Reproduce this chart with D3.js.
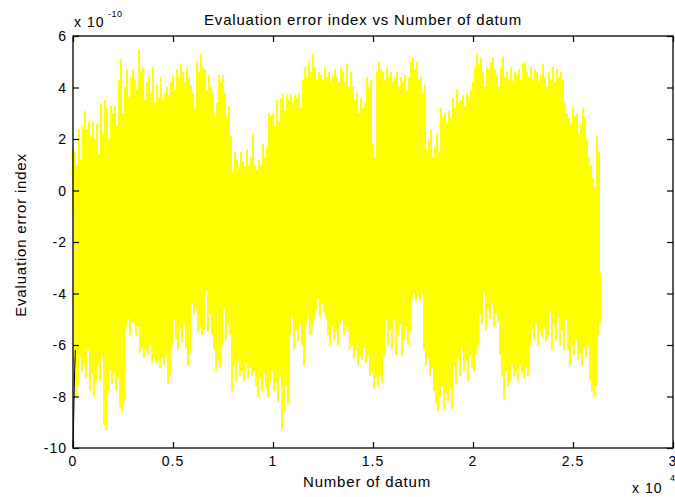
<!DOCTYPE html>
<html>
<head>
<meta charset="utf-8">
<script src="https://cdn.jsdelivr.net/npm/d3@7"></script>
<style>
  body { margin: 0; background: #fff; }
  text { font-family: "Liberation Sans", Arial, Helvetica, sans-serif; fill: #000; }
</style>
</head>
<body>
<div id="chart"></div>
<script>
var svgWidth = 675;
var svgHeight = 497;

var margin = { top: 36, right: 2, left: 73, bottom: 49 };
var width = svgWidth - margin.left - margin.right;
var height = svgHeight - margin.top - margin.bottom;

// one column every 100 datum: highest and lowest value (x 1e-10) in it
var datumStep = 100;
var colHigh = [
  1.7, 1.5, 1.0, 2.4, 1.2, 2.5, 3.1, 2.4, 2.7, 2.1,
  2.7, 2.0, 2.6, 1.4, 3.4, 2.2, 3.5, 3.2, 2.0, 3.3,
  3.0, 3.3, 2.5, 4.3, 5.1, 3.0, 4.0, 4.7, 3.6, 4.4,
  4.7, 4.3, 3.9, 5.45, 4.6, 4.8, 3.5, 4.2, 4.5, 3.8,
  4.8, 3.4, 4.1, 3.6, 4.4, 3.5, 3.8, 4.0, 3.7, 4.2,
  4.5, 3.9, 4.7, 4.4, 4.9, 4.6, 4.2, 4.8, 4.4, 4.1,
  3.8, 3.2, 5.0, 4.6, 5.3, 4.8, 4.7, 3.9, 4.5, 4.0,
  3.8, 2.9, 3.4, 4.5, 4.2, 4.5, 3.8, 2.8, 3.3, 2.1,
  0.7, 1.5, 1.2, 0.9, 1.5, 1.1, 0.9, 1.6, 1.0, 1.3,
  2.2, 1.0, 0.8, 1.2, 1.0, 1.8, 1.3, 1.7, 3.0, 2.9,
  3.0, 2.5, 3.5, 2.7, 3.6, 3.8, 3.1, 3.7, 3.5, 3.8,
  3.4, 3.7, 3.6, 3.8, 3.2, 4.3, 4.8, 4.4, 5.0, 4.6,
  5.3, 4.8, 4.3, 4.6, 4.5, 4.3, 4.8, 4.4, 4.6, 4.2,
  4.5, 4.7, 4.4, 4.2, 4.8, 4.6, 4.2, 4.9, 4.0, 4.6,
  4.0, 3.5, 3.8, 3.0, 3.6, 3.2, 3.4, 4.4, 4.0, 4.3,
  1.8, 1.3, 4.6, 5.0, 4.7, 4.6, 4.3, 4.8, 4.4, 4.6,
  4.2, 4.4, 4.6, 4.0, 4.4, 4.2, 4.5, 3.9, 4.4, 5.0,
  5.2, 4.7, 5.0, 4.3, 4.4, 3.8, 4.1, 1.6, 2.0, 2.4,
  1.3, 1.7, 2.2, 1.5, 3.2, 2.8, 3.0, 2.6, 3.1, 2.8,
  3.6, 3.2, 3.9, 3.4, 3.5, 3.7, 3.3, 3.8, 3.6, 3.9,
  4.2, 4.8, 5.3, 4.9, 5.2, 4.6, 4.0, 4.8, 4.7, 5.0,
  5.2, 4.7, 4.5, 4.0, 4.8, 5.2, 4.4, 4.6, 4.3, 4.8,
  4.2, 4.6, 4.5, 4.7, 4.3, 4.9, 5.0, 4.6, 4.4, 4.8,
  4.3, 4.7, 4.6, 4.2, 4.5, 4.9, 4.4, 4.0, 4.6, 4.3,
  4.8, 4.2, 4.7, 4.4, 4.6, 4.3, 3.4, 3.0, 2.8, 2.6,
  3.2, 2.9, 3.0, 2.2, 2.6, 3.2, 2.8, 2.0, 1.3, 1.0,
  0.5, 0.15, 2.1, 1.5
];
var colLow = [
  -6.7, -8.0, -7.6, -6.5, -7.0, -6.8, -7.3, -6.2, -7.8, -7.1,
  -8.0, -7.4, -6.8, -7.4, -6.5, -9.1, -9.3, -7.8, -7.0, -7.5,
  -7.1, -7.8, -7.3, -8.4, -8.6, -8.2, -5.3, -5.0, -5.6, -5.1,
  -5.2, -5.6, -5.3, -6.3, -6.1, -6.5, -6.2, -6.4, -6.0, -6.7,
  -6.5, -6.7, -6.6, -6.9, -6.5, -6.8, -6.4, -7.5, -7.2, -6.0,
  -5.0, -5.8, -6.2, -5.4, -5.9, -5.2, -6.1, -6.8, -6.3, -4.4,
  -4.8, -4.6, -5.5, -5.3, -5.6, -5.4, -3.9, -5.5, -4.8, -5.6,
  -6.2, -7.0, -6.6, -6.9, -6.0, -4.6, -5.8, -5.2, -5.6, -7.8,
  -6.8, -7.4, -6.6, -7.2, -7.0, -7.4, -6.7, -7.3, -6.9, -7.2,
  -7.0, -7.6, -8.0, -7.3, -7.8, -7.1, -7.7, -8.0, -7.4, -7.0,
  -7.8, -7.4, -8.2, -7.2, -9.3, -8.6, -7.6, -8.3, -5.6, -4.9,
  -6.2, -5.4, -5.9, -5.2, -6.0, -6.8, -5.2, -4.9, -5.6, -5.3,
  -5.0, -4.6, -4.2, -4.9, -4.4, -4.7, -5.0, -5.6, -6.0, -5.3,
  -5.8, -5.5, -6.0, -5.2, -5.0, -5.6, -5.3, -5.5, -6.2, -6.0,
  -6.5, -6.2, -6.8, -6.4, -6.6, -6.1, -6.7, -6.4, -7.2, -7.0,
  -7.7, -7.3, -7.6, -7.2, -7.5, -6.4, -5.0, -6.0, -5.4, -6.2,
  -5.0, -6.4, -5.6, -5.2, -6.4, -5.8, -5.3, -6.0, -5.5, -4.2,
  -4.0, -4.3, -4.1, -4.3, -4.0, -6.2, -6.8, -6.5, -7.2, -6.9,
  -7.8, -8.3, -8.6, -8.0, -7.6, -8.5, -7.9, -8.2, -7.7, -8.5,
  -6.8, -7.5, -6.5, -7.2, -6.2, -7.0, -6.6, -7.4, -6.4, -6.9,
  -7.0, -6.3, -6.0, -4.8, -5.2, -4.0, -5.4, -4.6, -5.0, -4.4,
  -5.3, -4.8, -5.1, -6.4, -7.2, -8.1, -7.0, -7.6, -7.4, -6.8,
  -7.2, -7.0, -7.4, -6.8, -7.1, -7.3, -6.9, -7.2, -6.0, -5.4,
  -5.8, -5.2, -6.0, -5.5, -5.7, -5.3, -5.9, -5.6, -4.7, -6.2,
  -5.2, -5.8, -4.9, -6.0, -5.4, -6.2, -5.0, -6.2, -6.8, -6.0,
  -6.4, -5.8, -6.6, -6.3, -6.8, -6.1, -6.5, -6.0, -7.4, -7.8,
  -8.0, -7.6, -5.6, -5.2
];

// start-up transient (black)
var startX = [0, 20, 50, 80, 120];
var startY = [-10, -9.4, -8.2, -7.0, -6.2];

var xTicks = [0, 5000, 10000, 15000, 20000, 25000, 30000];
var xTickLabels = ["0", "0.5", "1", "1.5", "2", "2.5", "3"];
var yTicks = [6, 4, 2, 0, -2, -4, -6, -8, -10];

var svg = d3.select("#chart")
  .append("svg")
  .attr("width", svgWidth)
  .attr("height", svgHeight);

var x = d3.scaleLinear().domain([0, 30000]).range([margin.left, margin.left + width]);
var y = d3.scaleLinear().domain([-10, 6]).range([margin.top + height, margin.top]);

// zigzag through the high and low of every column
var pts = [];
colHigh.forEach(function(h, i) {
  pts.push([i * datumStep, h]);
  pts.push([i * datumStep + datumStep / 2, colLow[i]]);
});

var line = d3.line()
  .x(d => x(d[0]))
  .y(d => y(d[1]));

svg.append("path")
  .datum(pts)
  .attr("d", line)
  .attr("fill", "none")
  .attr("stroke", "#ffff00")
  .attr("stroke-width", 1.6)
  .attr("shape-rendering", "crispEdges");

svg.append("path")
  .datum(startX.map((v, i) => [v, startY[i]]))
  .attr("d", line)
  .attr("fill", "none")
  .attr("stroke", "#000")
  .attr("stroke-width", 1);

// box
svg.append("rect")
  .attr("x", x(0))
  .attr("y", y(6))
  .attr("width", x(30000) - x(0))
  .attr("height", y(-10) - y(6))
  .attr("fill", "none")
  .attr("stroke", "#000")
  .attr("stroke-width", 1.3);

var tickLen = 6;

// inward ticks on all four sides
svg.append("g").call(d3.axisBottom(x).tickValues(xTicks).tickSize(-tickLen).tickFormat(""))
  .attr("transform", `translate(0, ${y(-10)})`)
  .call(g => g.select(".domain").remove());
svg.append("g").call(d3.axisTop(x).tickValues(xTicks).tickSize(-tickLen).tickFormat(""))
  .attr("transform", `translate(0, ${y(6)})`)
  .call(g => g.select(".domain").remove());
svg.append("g").call(d3.axisLeft(y).tickValues(yTicks).tickSize(-tickLen).tickFormat(""))
  .attr("transform", `translate(${x(0)}, 0)`)
  .call(g => g.select(".domain").remove());
svg.append("g").call(d3.axisRight(y).tickValues(yTicks).tickSize(-tickLen).tickFormat(""))
  .attr("transform", `translate(${x(30000)}, 0)`)
  .call(g => g.select(".domain").remove());

svg.selectAll(".tick line").attr("stroke", "#000").attr("stroke-width", 1.2);

// tick labels
svg.append("g").selectAll("text")
  .data(xTicks)
  .enter()
  .append("text")
  .attr("x", d => x(d))
  .attr("y", 466)
  .attr("text-anchor", "middle")
  .attr("font-size", "14px")
  .attr("letter-spacing", "1px")
  .text((d, i) => xTickLabels[i]);

svg.append("g").selectAll("text")
  .data(yTicks)
  .enter()
  .append("text")
  .attr("x", 67)
  .attr("y", d => y(d) + 5)
  .attr("text-anchor", "end")
  .attr("font-size", "14px")
  .attr("letter-spacing", "1px")
  .text(d => String(d));

// exponents
svg.append("text").attr("x", 74).attr("y", 27).attr("font-size", "14px").attr("letter-spacing", "1px").text("x 10");
svg.append("text").attr("x", 108).attr("y", 17).attr("font-size", "9px").attr("letter-spacing", "0.5px").text("-10");
svg.append("text").attr("x", 632).attr("y", 493).attr("font-size", "14px").attr("letter-spacing", "1px").text("x 10");
svg.append("text").attr("x", 670).attr("y", 481).attr("font-size", "9px").text("4");

// titles
svg.append("text")
  .attr("x", 363)
  .attr("y", 25)
  .attr("text-anchor", "middle")
  .attr("font-size", "15px")
  .attr("letter-spacing", "0.8px")
  .text("Evaluation error index vs Number of datum");

svg.append("text")
  .attr("x", 367)
  .attr("y", 487)
  .attr("text-anchor", "middle")
  .attr("font-size", "15px")
  .attr("letter-spacing", "0.8px")
  .text("Number of datum");

svg.append("text")
  .attr("transform", "translate(26, 235) rotate(-90)")
  .attr("text-anchor", "middle")
  .attr("font-size", "15px")
  .attr("letter-spacing", "0.8px")
  .text("Evaluation error index");
</script>
</body>
</html>
